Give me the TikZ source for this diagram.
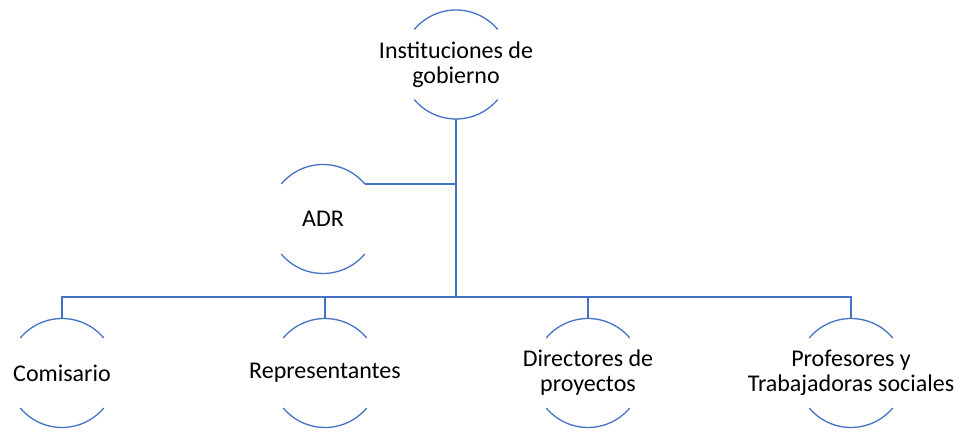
\documentclass[tikz,border=0pt]{standalone}
\usepackage{fontspec}
\setmainfont{Carlito}
\definecolor{lineblue}{RGB}{68,114,196}
\begin{document}
\begin{tikzpicture}[x=0.5pt,y=0.5pt,
  ring/.style={circle,minimum size=54.5pt,inner sep=0pt,outer sep=0pt},
  lbl/.style={align=center,font=\fontsize{12pt}{12.5pt}\selectfont,inner sep=0pt,text=black},
  arcline/.style={draw=lineblue,line width=0.65pt},
  conn/.style={draw=lineblue,line width=0.65pt},
  trunk/.style={draw=lineblue,line width=1pt}]
\useasboundingbox (0,0) rectangle (960,-432);
\fill[white] (0,0) rectangle (960,-432);
% circles (only top and bottom arcs visible)
\node[ring] (top) at (456,-64.5) {};
\node[ring] (adr) at (323,-219) {};
\node[ring] (c1) at (62,-373) {};
\node[ring] (c2) at (325,-373) {};
\node[ring] (c3) at (588,-373) {};
\node[ring] (c4) at (851,-373) {};
\foreach \n in {top,adr,c1,c2,c3,c4}{
  \draw[arcline] (\n.40) arc (40:140:27.25pt);
  \draw[arcline] (\n.220) arc (220:320:27.25pt);
}
% labels
\node[lbl] (topT) at (top) {Instituciones de\\gobierno};
\node[lbl] (adrT) at (adr) {ADR};
\node[lbl] (c1T) at (c1) {Comisario};
\node[lbl] (c2T) at (c2) {Representantes};
\node[lbl] (c3T) at (c3) {Directores de\\proyectos};
\node[lbl] (c4T) at (c4) {Profesores y\\Trabajadoras sociales};
% connectors
\coordinate (busc) at (456,-297);
\draw[conn] (adr.40) -- (adr.40 -| busc);
\draw[conn] (c1.north) -- (c1.north |- busc) -- (c4.north |- busc) -- (c4.north);
\draw[conn] (c2.north) -- (c2.north |- busc);
\draw[conn] (c3.north) -- (c3.north |- busc);
\draw[trunk] (top.south) -- (busc);
\end{tikzpicture}
\end{document}
